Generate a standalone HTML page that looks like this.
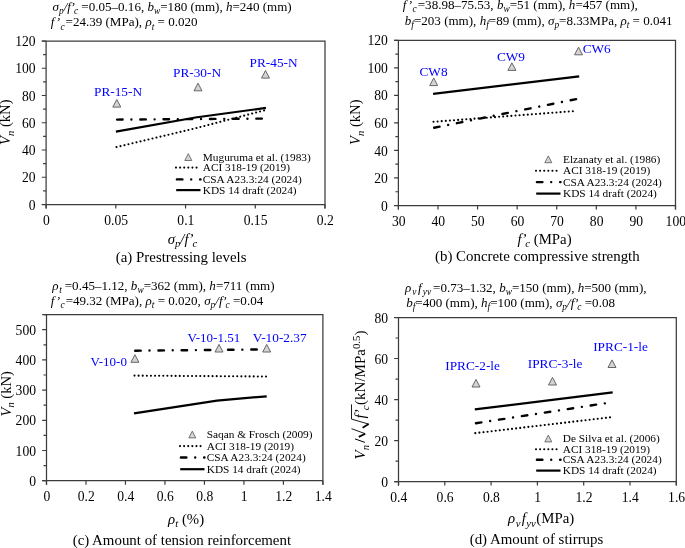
<!DOCTYPE html><html><head><meta charset="utf-8"><style>html,body{margin:0;padding:0;background:#fff;}svg{display:block;will-change:transform}</style></head><body>
<svg width="685" height="548" viewBox="0 0 685 548" font-family='"Liberation Serif", serif'>
<rect width="685" height="548" fill="#fff"/>
<path d="M41.80 41.00H325.00V208.50" fill="none" stroke="#3c3c3c" stroke-width="1.25"/>
<path d="M46.10 41.00V208.50" fill="none" stroke="#3c3c3c" stroke-width="1.25"/>
<path d="M41.80 204.50H325.00" fill="none" stroke="#3c3c3c" stroke-width="1.25"/>
<path d="M41.80 204.50H46.10M41.80 177.25H46.10M41.80 150.00H46.10M41.80 122.75H46.10M41.80 95.50H46.10M41.80 68.25H46.10M41.80 41.00H46.10M43.10 190.88H46.10M43.10 163.62H46.10M43.10 136.38H46.10M43.10 109.12H46.10M43.10 81.88H46.10M43.10 54.62H46.10" fill="none" stroke="#3c3c3c" stroke-width="1.2"/>
<path d="M46.10 204.50V208.50M115.82 204.50V208.50M185.55 204.50V208.50M255.27 204.50V208.50M325.00 204.50V208.50" fill="none" stroke="#3c3c3c" stroke-width="1.2"/>
<text x="35.60" y="209.60" text-anchor="end" font-size="13.6">0</text>
<text x="35.60" y="182.35" text-anchor="end" font-size="13.6">20</text>
<text x="35.60" y="155.10" text-anchor="end" font-size="13.6">40</text>
<text x="35.60" y="127.85" text-anchor="end" font-size="13.6">60</text>
<text x="35.60" y="100.60" text-anchor="end" font-size="13.6">80</text>
<text x="35.60" y="73.35" text-anchor="end" font-size="13.6">100</text>
<text x="35.60" y="46.10" text-anchor="end" font-size="13.6">120</text>
<text x="46.40" y="225.20" text-anchor="middle" font-size="13.6">0</text>
<text x="116.12" y="225.20" text-anchor="middle" font-size="13.6">0.05</text>
<text x="185.85" y="225.20" text-anchor="middle" font-size="13.6">0.1</text>
<text x="255.57" y="225.20" text-anchor="middle" font-size="13.6">0.15</text>
<text x="325.30" y="225.20" text-anchor="middle" font-size="13.6">0.2</text>
<path d="M394.10 40.30H675.50V209.50" fill="none" stroke="#3c3c3c" stroke-width="1.25"/>
<path d="M398.40 40.30V209.50" fill="none" stroke="#3c3c3c" stroke-width="1.25"/>
<path d="M394.10 205.50H675.50" fill="none" stroke="#3c3c3c" stroke-width="1.25"/>
<path d="M394.10 205.50H398.40M394.10 177.97H398.40M394.10 150.43H398.40M394.10 122.90H398.40M394.10 95.37H398.40M394.10 67.83H398.40M394.10 40.30H398.40M395.40 191.73H398.40M395.40 164.20H398.40M395.40 136.67H398.40M395.40 109.13H398.40M395.40 81.60H398.40M395.40 54.07H398.40" fill="none" stroke="#3c3c3c" stroke-width="1.2"/>
<path d="M398.40 205.50V209.50M437.99 205.50V209.50M477.57 205.50V209.50M517.16 205.50V209.50M556.74 205.50V209.50M596.33 205.50V209.50M635.91 205.50V209.50M675.50 205.50V209.50" fill="none" stroke="#3c3c3c" stroke-width="1.2"/>
<text x="387.90" y="210.60" text-anchor="end" font-size="13.6">0</text>
<text x="387.90" y="183.07" text-anchor="end" font-size="13.6">20</text>
<text x="387.90" y="155.53" text-anchor="end" font-size="13.6">40</text>
<text x="387.90" y="128.00" text-anchor="end" font-size="13.6">60</text>
<text x="387.90" y="100.47" text-anchor="end" font-size="13.6">80</text>
<text x="387.90" y="72.93" text-anchor="end" font-size="13.6">100</text>
<text x="387.90" y="45.40" text-anchor="end" font-size="13.6">120</text>
<text x="398.70" y="226.20" text-anchor="middle" font-size="13.6">30</text>
<text x="438.29" y="226.20" text-anchor="middle" font-size="13.6">40</text>
<text x="477.87" y="226.20" text-anchor="middle" font-size="13.6">50</text>
<text x="517.46" y="226.20" text-anchor="middle" font-size="13.6">60</text>
<text x="557.04" y="226.20" text-anchor="middle" font-size="13.6">70</text>
<text x="596.63" y="226.20" text-anchor="middle" font-size="13.6">80</text>
<text x="636.21" y="226.20" text-anchor="middle" font-size="13.6">90</text>
<text x="675.80" y="226.20" text-anchor="middle" font-size="13.6">100</text>
<path d="M42.20 314.60H322.90V484.70" fill="none" stroke="#3c3c3c" stroke-width="1.25"/>
<path d="M46.50 314.60V484.70" fill="none" stroke="#3c3c3c" stroke-width="1.25"/>
<path d="M42.20 480.70H322.90" fill="none" stroke="#3c3c3c" stroke-width="1.25"/>
<path d="M42.20 480.70H46.50M42.20 450.50H46.50M42.20 420.30H46.50M42.20 390.10H46.50M42.20 359.90H46.50M42.20 329.70H46.50M43.50 465.60H46.50M43.50 435.40H46.50M43.50 405.20H46.50M43.50 375.00H46.50M43.50 344.80H46.50M43.50 314.60H46.50" fill="none" stroke="#3c3c3c" stroke-width="1.2"/>
<path d="M46.50 480.70V484.70M85.99 480.70V484.70M125.47 480.70V484.70M164.96 480.70V484.70M204.44 480.70V484.70M243.93 480.70V484.70M283.41 480.70V484.70M322.90 480.70V484.70" fill="none" stroke="#3c3c3c" stroke-width="1.2"/>
<text x="36.00" y="485.80" text-anchor="end" font-size="13.6">0</text>
<text x="36.00" y="455.60" text-anchor="end" font-size="13.6">100</text>
<text x="36.00" y="425.40" text-anchor="end" font-size="13.6">200</text>
<text x="36.00" y="395.20" text-anchor="end" font-size="13.6">300</text>
<text x="36.00" y="365.00" text-anchor="end" font-size="13.6">400</text>
<text x="36.00" y="334.80" text-anchor="end" font-size="13.6">500</text>
<text x="46.80" y="501.40" text-anchor="middle" font-size="13.6">0</text>
<text x="86.29" y="501.40" text-anchor="middle" font-size="13.6">0.2</text>
<text x="125.77" y="501.40" text-anchor="middle" font-size="13.6">0.4</text>
<text x="165.26" y="501.40" text-anchor="middle" font-size="13.6">0.6</text>
<text x="204.74" y="501.40" text-anchor="middle" font-size="13.6">0.8</text>
<text x="244.23" y="501.40" text-anchor="middle" font-size="13.6">1</text>
<text x="283.71" y="501.40" text-anchor="middle" font-size="13.6">1.2</text>
<text x="323.20" y="501.40" text-anchor="middle" font-size="13.6">1.4</text>
<path d="M394.20 317.50H676.30V485.60" fill="none" stroke="#3c3c3c" stroke-width="1.25"/>
<path d="M398.50 317.50V485.60" fill="none" stroke="#3c3c3c" stroke-width="1.25"/>
<path d="M394.20 481.60H676.30" fill="none" stroke="#3c3c3c" stroke-width="1.25"/>
<path d="M394.20 481.60H398.50M394.20 440.58H398.50M394.20 399.55H398.50M394.20 358.52H398.50M394.20 317.50H398.50M395.50 461.09H398.50M395.50 420.06H398.50M395.50 379.04H398.50M395.50 338.01H398.50" fill="none" stroke="#3c3c3c" stroke-width="1.2"/>
<path d="M398.50 481.60V485.60M444.80 481.60V485.60M491.10 481.60V485.60M537.40 481.60V485.60M583.70 481.60V485.60M630.00 481.60V485.60M676.30 481.60V485.60" fill="none" stroke="#3c3c3c" stroke-width="1.2"/>
<text x="388.00" y="486.70" text-anchor="end" font-size="13.6">0</text>
<text x="388.00" y="445.68" text-anchor="end" font-size="13.6">20</text>
<text x="388.00" y="404.65" text-anchor="end" font-size="13.6">40</text>
<text x="388.00" y="363.62" text-anchor="end" font-size="13.6">60</text>
<text x="388.00" y="322.60" text-anchor="end" font-size="13.6">80</text>
<text x="398.80" y="502.30" text-anchor="middle" font-size="13.6">0.4</text>
<text x="445.10" y="502.30" text-anchor="middle" font-size="13.6">0.6</text>
<text x="491.40" y="502.30" text-anchor="middle" font-size="13.6">0.8</text>
<text x="537.70" y="502.30" text-anchor="middle" font-size="13.6">1</text>
<text x="584.00" y="502.30" text-anchor="middle" font-size="13.6">1.2</text>
<text x="630.30" y="502.30" text-anchor="middle" font-size="13.6">1.4</text>
<text x="676.60" y="502.30" text-anchor="middle" font-size="13.6">1.6</text>
<path d="M115.90 131.70L195.40 117.50L265.90 107.90" fill="none" stroke="#000" stroke-width="2.2"/>
<path d="M116.49 147.08L195.40 128.30L264.60 110.30" fill="none" stroke="#000" stroke-width="2.1" stroke-linecap="round" stroke-dasharray="0.01 4.1"/>
<path d="M117.10 119.59L262.40 118.60" fill="none" stroke="#000" stroke-width="2.4" stroke-linecap="round" stroke-dasharray="5.5 8.8 0.01 8.9"/>
<path d="M116.80 99.50L120.80 107.10H112.80Z" fill="#d4d4d4" stroke="#666" stroke-width="1" stroke-linejoin="miter"/>
<path d="M198.00 83.20L202.00 90.80H194.00Z" fill="#d4d4d4" stroke="#666" stroke-width="1" stroke-linejoin="miter"/>
<path d="M265.50 70.50L269.50 78.10H261.50Z" fill="#d4d4d4" stroke="#666" stroke-width="1" stroke-linejoin="miter"/>
<text x="94.00" y="96.10" font-size="13.3" fill="#0000ff">PR-15-N</text>
<text x="173.00" y="76.60" font-size="13.3" fill="#0000ff">PR-30-N</text>
<text x="249.60" y="66.60" font-size="13.3" fill="#0000ff">PR-45-N</text>
<path d="M188.30 153.70L191.80 160.50H184.80Z" fill="#d4d4d4" stroke="#666" stroke-width="0.9" stroke-linejoin="miter"/>
<path d="M176.00 167.60L197.30 167.60" fill="none" stroke="#000" stroke-width="2.1" stroke-linecap="round" stroke-dasharray="0.01 4.1"/>
<path d="M176.90 179.40L200.50 179.40" fill="none" stroke="#000" stroke-width="2.4" stroke-linecap="round" stroke-dasharray="5.5 8.8 0.01 8.9"/>
<path d="M176.20 190.10L200.50 190.10" fill="none" stroke="#000" stroke-width="2.2"/>
<text x="202.80" y="160.50" font-size="11.3">Muguruma et al. (1983)</text>
<text x="202.80" y="171.00" font-size="11.3">ACI 318-19 (2019)</text>
<text x="202.80" y="182.80" font-size="11.3">CSA A23.3:24 (2024)</text>
<text x="202.80" y="193.50" font-size="11.3">KDS 14 draft (2024)</text>
<path d="M433.10 93.80L579.20 76.40" fill="none" stroke="#000" stroke-width="2.2"/>
<path d="M433.50 121.76L576.60 110.90" fill="none" stroke="#000" stroke-width="2.1" stroke-linecap="round" stroke-dasharray="0.01 4.1"/>
<path d="M434.18 127.76L576.20 99.10" fill="none" stroke="#000" stroke-width="2.4" stroke-linecap="round" stroke-dasharray="5.5 8.8 0.01 8.9"/>
<path d="M433.70 78.00L437.70 85.60H429.70Z" fill="#d4d4d4" stroke="#666" stroke-width="1" stroke-linejoin="miter"/>
<path d="M511.90 62.80L515.90 70.40H507.90Z" fill="#d4d4d4" stroke="#666" stroke-width="1" stroke-linejoin="miter"/>
<path d="M578.50 47.20L582.50 54.80H574.50Z" fill="#d4d4d4" stroke="#666" stroke-width="1" stroke-linejoin="miter"/>
<text x="419.50" y="75.80" font-size="13.3" fill="#0000ff">CW8</text>
<text x="496.90" y="60.90" font-size="13.3" fill="#0000ff">CW9</text>
<text x="582.70" y="53.10" font-size="13.3" fill="#0000ff">CW6</text>
<path d="M548.30 155.90L551.80 162.70H544.80Z" fill="#d4d4d4" stroke="#666" stroke-width="0.9" stroke-linejoin="miter"/>
<path d="M536.00 170.80L557.30 170.80" fill="none" stroke="#000" stroke-width="2.1" stroke-linecap="round" stroke-dasharray="0.01 4.1"/>
<path d="M536.90 182.10L560.50 182.10" fill="none" stroke="#000" stroke-width="2.4" stroke-linecap="round" stroke-dasharray="5.5 8.8 0.01 8.9"/>
<path d="M536.20 193.60L560.50 193.60" fill="none" stroke="#000" stroke-width="2.2"/>
<text x="563.00" y="162.70" font-size="11.3">Elzanaty et al. (1986)</text>
<text x="563.00" y="174.20" font-size="11.3">ACI 318-19 (2019)</text>
<text x="563.00" y="185.50" font-size="11.3">CSA A23.3:24 (2024)</text>
<text x="563.00" y="197.00" font-size="11.3">KDS 14 draft (2024)</text>
<path d="M134.00 413.30L217.00 400.60L266.70 396.30" fill="none" stroke="#000" stroke-width="2.2"/>
<path d="M134.50 375.60L266.60 376.50" fill="none" stroke="#000" stroke-width="2.1" stroke-linecap="round" stroke-dasharray="0.01 4.1"/>
<path d="M135.20 350.69L267.60 349.40" fill="none" stroke="#000" stroke-width="2.4" stroke-linecap="round" stroke-dasharray="5.5 8.8 0.01 8.9"/>
<path d="M134.90 354.70L138.90 362.30H130.90Z" fill="#d4d4d4" stroke="#666" stroke-width="1" stroke-linejoin="miter"/>
<path d="M219.00 344.40L223.00 352.00H215.00Z" fill="#d4d4d4" stroke="#666" stroke-width="1" stroke-linejoin="miter"/>
<path d="M266.70 344.40L270.70 352.00H262.70Z" fill="#d4d4d4" stroke="#666" stroke-width="1" stroke-linejoin="miter"/>
<text x="90.60" y="365.90" font-size="13.0" fill="#0000ff">V-10-0</text>
<text x="187.60" y="342.20" font-size="13.0" fill="#0000ff">V-10-1.51</text>
<text x="252.80" y="342.20" font-size="13.3" fill="#0000ff">V-10-2.37</text>
<path d="M192.30 431.10L195.80 437.90H188.80Z" fill="#d4d4d4" stroke="#666" stroke-width="0.9" stroke-linejoin="miter"/>
<path d="M180.00 446.10L201.30 446.10" fill="none" stroke="#000" stroke-width="2.1" stroke-linecap="round" stroke-dasharray="0.01 4.1"/>
<path d="M180.90 457.50L204.50 457.50" fill="none" stroke="#000" stroke-width="2.4" stroke-linecap="round" stroke-dasharray="5.5 8.8 0.01 8.9"/>
<path d="M180.20 469.20L204.50 469.20" fill="none" stroke="#000" stroke-width="2.2"/>
<text x="206.80" y="437.90" font-size="11.3">Saqan &amp; Frosch (2009)</text>
<text x="206.80" y="449.50" font-size="11.3">ACI 318-19 (2019)</text>
<text x="206.80" y="460.90" font-size="11.3">CSA A23.3:24 (2024)</text>
<text x="206.80" y="472.60" font-size="11.3">KDS 14 draft (2024)</text>
<path d="M474.80 409.40L612.70 392.30" fill="none" stroke="#000" stroke-width="2.2"/>
<path d="M475.30 433.14L611.00 417.20" fill="none" stroke="#000" stroke-width="2.1" stroke-linecap="round" stroke-dasharray="0.01 4.1"/>
<path d="M475.99 423.22L611.60 402.30" fill="none" stroke="#000" stroke-width="2.4" stroke-linecap="round" stroke-dasharray="5.5 8.8 0.01 8.9"/>
<path d="M476.00 379.40L480.00 387.00H472.00Z" fill="#d4d4d4" stroke="#666" stroke-width="1" stroke-linejoin="miter"/>
<path d="M552.50 377.40L556.50 385.00H548.50Z" fill="#d4d4d4" stroke="#666" stroke-width="1" stroke-linejoin="miter"/>
<path d="M612.00 359.90L616.00 367.50H608.00Z" fill="#d4d4d4" stroke="#666" stroke-width="1" stroke-linejoin="miter"/>
<text x="445.30" y="369.90" font-size="13.3" fill="#0000ff">IPRC-2-le</text>
<text x="527.80" y="368.20" font-size="13.3" fill="#0000ff">IPRC-3-le</text>
<text x="593.20" y="351.40" font-size="13.3" fill="#0000ff">IPRC-1-le</text>
<path d="M548.30 435.10L551.80 441.90H544.80Z" fill="#d4d4d4" stroke="#666" stroke-width="0.9" stroke-linejoin="miter"/>
<path d="M536.00 449.20L557.30 449.20" fill="none" stroke="#000" stroke-width="2.1" stroke-linecap="round" stroke-dasharray="0.01 4.1"/>
<path d="M536.90 459.80L560.50 459.80" fill="none" stroke="#000" stroke-width="2.4" stroke-linecap="round" stroke-dasharray="5.5 8.8 0.01 8.9"/>
<path d="M536.20 470.60L560.50 470.60" fill="none" stroke="#000" stroke-width="2.2"/>
<text x="562.80" y="441.90" font-size="11.3">De Silva et al. (2006)</text>
<text x="562.80" y="452.60" font-size="11.3">ACI 318-19 (2019)</text>
<text x="562.80" y="463.20" font-size="11.3">CSA A23.3:24 (2024)</text>
<text x="562.80" y="474.00" font-size="11.3">KDS 14 draft (2024)</text>
<text x="52.50" y="10.70" font-size="13.05" text-anchor="start"><tspan font-style="italic">σ</tspan><tspan font-size="9.40" font-style="italic" dy="3.20">p</tspan><tspan font-style="italic" dy="-3.20">/</tspan><tspan font-style="italic">f</tspan><tspan dx="-1.5" font-style="italic">’</tspan><tspan dx="-1.0" font-size="9.40" font-style="italic" dy="3.20">c</tspan><tspan dy="-3.20"> =0.05–0.16, </tspan><tspan font-style="italic">b</tspan><tspan font-size="9.40" font-style="italic" dy="3.20">w</tspan><tspan dy="-3.20">=180 (mm), </tspan><tspan font-style="italic">h</tspan><tspan>=240 (mm)</tspan></text>
<text x="50.80" y="26.30" font-size="13.05" text-anchor="start"><tspan font-style="italic">f</tspan><tspan dx="0.2" font-style="italic">’</tspan><tspan dx="0.2" font-size="9.40" font-style="italic" dy="3.20">c</tspan><tspan dx="1.0" dy="-3.20">=24.39 (MPa), </tspan><tspan font-style="italic">ρ</tspan><tspan font-size="9.40" font-style="italic" dy="3.20">t</tspan><tspan dy="-3.20"> = 0.020</tspan></text>
<text x="402.80" y="8.80" font-size="13.05" text-anchor="start"><tspan font-style="italic">f</tspan><tspan dx="0.2" font-style="italic">’</tspan><tspan dx="0.2" font-size="9.40" font-style="italic" dy="3.20">c</tspan><tspan dx="1.2" dy="-3.20">=38.98–75.53, </tspan><tspan font-style="italic">b</tspan><tspan font-size="9.40" font-style="italic" dy="3.20">w</tspan><tspan dy="-3.20">=51 (mm), </tspan><tspan font-style="italic">h</tspan><tspan>=457 (mm),</tspan></text>
<text x="404.80" y="24.50" font-size="13.05" text-anchor="start"><tspan font-style="italic">b</tspan><tspan font-size="9.40" font-style="italic" dy="3.20">f</tspan><tspan dy="-3.20">=203 (mm), </tspan><tspan font-style="italic">h</tspan><tspan font-size="9.40" font-style="italic" dy="3.20">f</tspan><tspan dy="-3.20">=89 (mm), </tspan><tspan font-style="italic">σ</tspan><tspan font-size="9.40" font-style="italic" dy="3.20">p</tspan><tspan dy="-3.20">=8.33MPa, </tspan><tspan font-style="italic">ρ</tspan><tspan font-size="9.40" font-style="italic" dy="3.20">t</tspan><tspan dy="-3.20"> = 0.041</tspan></text>
<text x="52.30" y="289.70" font-size="13.05" text-anchor="start"><tspan font-style="italic">ρ</tspan><tspan dx="0.8" font-size="9.40" font-style="italic" dy="3.20">t</tspan><tspan dx="2.8" dy="-3.20">=0.45–1.12, </tspan><tspan font-style="italic">b</tspan><tspan font-size="9.40" font-style="italic" dy="3.20">w</tspan><tspan dy="-3.20">=362 (mm), </tspan><tspan font-style="italic">h</tspan><tspan>=711 (mm)</tspan></text>
<text x="50.80" y="305.10" font-size="13.05" text-anchor="start"><tspan font-style="italic">f</tspan><tspan dx="0.2" font-style="italic">’</tspan><tspan dx="0.2" font-size="9.40" font-style="italic" dy="3.20">c</tspan><tspan dx="1.1" dy="-3.20">=49.32 (MPa), </tspan><tspan font-style="italic">ρ</tspan><tspan font-size="9.40" font-style="italic" dy="3.20">t</tspan><tspan dy="-3.20"> = 0.020, </tspan><tspan font-style="italic">σ</tspan><tspan font-size="9.40" font-style="italic" dy="3.20">p</tspan><tspan font-style="italic" dy="-3.20">/</tspan><tspan font-style="italic">f</tspan><tspan dx="-1.5" font-style="italic">’</tspan><tspan dx="-1.0" font-size="9.40" font-style="italic" dy="3.20">c</tspan><tspan dy="-3.20"> =0.04</tspan></text>
<text x="405.00" y="292.20" font-size="13.05" text-anchor="start"><tspan font-style="italic">ρ</tspan><tspan dx="1.0" font-size="9.40" font-style="italic" dy="3.20">v</tspan><tspan dx="1.6" font-style="italic" dy="-3.20">f</tspan><tspan dx="1.2" font-size="9.40" font-style="italic" dy="3.20">yv</tspan><tspan dx="1.9" dy="-3.20">=0.73–1.32, </tspan><tspan font-style="italic">b</tspan><tspan font-size="9.40" font-style="italic" dy="3.20">w</tspan><tspan dy="-3.20">=150 (mm), </tspan><tspan font-style="italic">h</tspan><tspan>=500 (mm),</tspan></text>
<text x="406.20" y="306.60" font-size="13.05" text-anchor="start"><tspan font-style="italic">b</tspan><tspan font-size="9.40" font-style="italic" dy="3.20">f</tspan><tspan dy="-3.20">=400 (mm), </tspan><tspan font-style="italic">h</tspan><tspan font-size="9.40" font-style="italic" dy="3.20">f</tspan><tspan dy="-3.20">=100 (mm), </tspan><tspan font-style="italic">σ</tspan><tspan font-size="9.40" font-style="italic" dy="3.20">p</tspan><tspan font-style="italic" dy="-3.20">/</tspan><tspan font-style="italic">f</tspan><tspan dx="-1.5" font-style="italic">’</tspan><tspan dx="-1.0" font-size="9.40" font-style="italic" dy="3.20">c</tspan><tspan dy="-3.20"> =0.08</tspan></text>
<g transform="translate(10.30 122.20) rotate(-90)">
<text x="0.00" y="0.00" font-size="14.6" text-anchor="middle"><tspan font-style="italic">V</tspan><tspan font-size="10.51" font-style="italic" dy="3.20">n</tspan><tspan dy="-3.20"> (kN)</tspan></text>
</g>
<g transform="translate(360.30 122.20) rotate(-90)">
<text x="0.00" y="0.00" font-size="14.6" text-anchor="middle"><tspan font-style="italic">V</tspan><tspan font-size="10.51" font-style="italic" dy="3.20">n</tspan><tspan dy="-3.20"> (kN)</tspan></text>
</g>
<g transform="translate(10.80 393.80) rotate(-90)">
<text x="0.00" y="0.00" font-size="14.6" text-anchor="middle"><tspan font-style="italic">V</tspan><tspan font-size="10.51" font-style="italic" dy="3.20">n</tspan><tspan dy="-3.20"> (kN)</tspan></text>
</g>
<g transform="translate(365.4 458.7) rotate(-90)">
<text x="-0.80" y="0.00" font-size="15" text-anchor="start"><tspan font-style="italic">V</tspan><tspan font-size="10.80" font-style="italic" dy="3.20">n</tspan></text>
<path d="M16.3 -0.5L19.8 -10.4" fill="none" stroke="#000" stroke-width="1"/>
<path d="M21.8 -6.6L25 -0.2" fill="none" stroke="#000" stroke-width="1.8"/>
<path d="M25 -0.2L30 -13.9" fill="none" stroke="#000" stroke-width="0.9"/>
<path d="M30.9 -2.8L34.6 3.3" fill="none" stroke="#000" stroke-width="1.8"/>
<path d="M34.6 3.3L39.6 -13.9H54.3" fill="none" stroke="#000" stroke-width="0.9"/>
<text x="40.30" y="0.00" font-size="15" text-anchor="start"><tspan font-style="italic">f</tspan><tspan dx="-1.5" font-style="italic">’</tspan><tspan dx="-1.0" font-size="10.80" font-style="italic" dy="3.20">c</tspan></text>
<text x="53.80" y="0.00" font-size="15" text-anchor="start"><tspan>(kN/MPa</tspan><tspan font-size="10.80" dy="-5.00">0.5</tspan><tspan dy="5.00">)</tspan></text>
</g>
<text x="182.40" y="243.50" font-size="14.8" text-anchor="middle"><tspan font-style="italic">σ</tspan><tspan font-size="10.66" font-style="italic" dy="3.20">p</tspan><tspan font-style="italic" dy="-3.20">/</tspan><tspan font-style="italic">f</tspan><tspan dx="-1.5" font-style="italic">’</tspan><tspan dx="-1.0" font-size="10.66" font-style="italic" dy="3.20">c</tspan></text>
<text x="544.50" y="244.10" font-size="14.8" text-anchor="middle"><tspan font-style="italic">f</tspan><tspan dx="-1.5" font-style="italic">’</tspan><tspan dx="-1.0" font-size="10.66" font-style="italic" dy="3.20">c</tspan><tspan dy="-3.20"> (MPa)</tspan></text>
<text x="186.10" y="523.60" font-size="14.8" text-anchor="middle"><tspan font-style="italic">ρ</tspan><tspan font-size="10.66" font-style="italic" dy="3.20">t</tspan><tspan dy="-3.20"> (%)</tspan></text>
<text x="541.00" y="523.40" font-size="14.8" text-anchor="middle"><tspan font-style="italic">ρ</tspan><tspan dx="0.8" font-size="10.66" font-style="italic" dy="3.20">v</tspan><tspan dx="1.2" font-style="italic" dy="-3.20">f</tspan><tspan dx="0.5" font-size="10.66" font-style="italic" dy="3.20">yv</tspan><tspan dx="0.5" dy="-3.20">(MPa)</tspan></text>
<text x="115.80" y="261.50" font-size="14.9">(a) Prestressing levels</text>
<text x="435.00" y="261.20" font-size="14.9">(b) Concrete compressive strength</text>
<text x="72.70" y="544.90" font-size="14.9">(c) Amount of tension reinforcement</text>
<text x="469.70" y="544.40" font-size="14.9">(d) Amount of stirrups</text>
</svg></body></html>
